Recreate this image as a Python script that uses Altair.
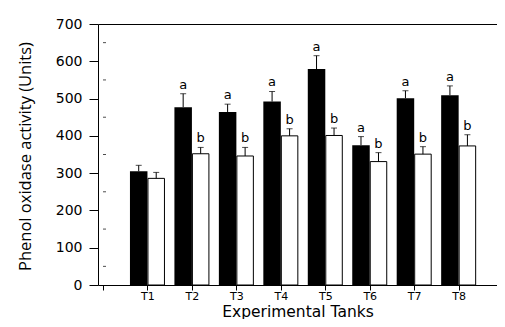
import altair as alt
import pandas as pd

tanks = ["T1", "T2", "T3", "T4", "T5", "T6", "T7", "T8"]
black_vals = [305, 477, 464, 492, 579, 375, 501, 509]
black_err = [16, 36, 21, 27, 36, 23, 20, 25]
white_vals = [286, 352, 346, 400, 401, 331, 351, 373]
white_err = [16, 17, 23, 19, 20, 24, 20, 30]
black_letters = ["", "a", "a", "a", "a", "a", "a", "a"]
white_letters = ["", "b", "b", "b", "b", "b", "b", "b"]
y_ticks = [0, 100, 200, 300, 400, 500, 600, 700]
y_minor = [50, 150, 250, 350, 450, 550, 650]
x_ticks = list(range(0, len(tanks) + 1))
x_minor = [i + 0.5 for i in range(0, len(tanks) + 1)]

pos = list(range(1, len(tanks) + 1))
dfb = pd.DataFrame({"pos": pos, "tank": tanks, "val": black_vals,
                    "top": [v + e for v, e in zip(black_vals, black_err)],
                    "lab": black_letters})
dfw = pd.DataFrame({"pos": pos, "tank": tanks, "val": white_vals,
                    "top": [v + e for v, e in zip(white_vals, white_err)],
                    "lab": white_letters})
dfy = pd.DataFrame({"y": y_minor, "x": [0] * len(y_minor)})
dfx = pd.DataFrame({"x": x_minor, "y": [0] * len(x_minor)})

label_expr = "[" + ",".join(["''"] + [f"'{t}'" for t in tanks]) + "][datum.value]"

xscale = alt.Scale(domain=[0, 8.75], nice=False, zero=False)
yscale = alt.Scale(domain=[0, 700], nice=False)

x_main = alt.X("pos:Q", scale=xscale, axis=alt.Axis(
    values=x_ticks, labelExpr=label_expr, title="Experimental Tanks",
    tickSize=5, labelPadding=0, labelFont="DejaVu Sans", labelFontSize=11,
    titleFont="DejaVu Sans", titleFontSize=15.5, titleFontWeight="normal",
    titleBaseline="alphabetic", titleY=31, grid=False, labelFlush=False))
y_main = alt.Y("val:Q", scale=yscale, axis=alt.Axis(
    values=y_ticks, title="Phenol oxidase activity (Units)", tickSize=9,
    labelPadding=7, labelFont="DejaVu Sans", labelFontSize=14,
    titleFont="Open Sans", titleFontSize=16.5, titleFontWeight="normal",
    titleBaseline="bottom", titleX=-65, titleY=132, grid=False))

off = 8.75
xn = alt.X("pos:Q", scale=xscale, axis=None)

black_bars = alt.Chart(dfb).mark_bar(color="black", width=17.5, xOffset=-off).encode(
    x=x_main, y=y_main)
white_bars = alt.Chart(dfw).mark_bar(fill="white", stroke="black", strokeWidth=1,
                                     width=16.5, xOffset=off).encode(
    x=xn, y=alt.Y("val:Q", scale=yscale, axis=None))

def errs(df, xo):
    rule = alt.Chart(df).mark_rule(color="black", strokeWidth=1, xOffset=xo).encode(
        x=xn, y=alt.Y("val:Q", scale=yscale, axis=None), y2="top:Q")
    cap = alt.Chart(df).mark_tick(color="black", orient="horizontal", size=6,
                                  thickness=1, xOffset=xo).encode(
        x=xn, y=alt.Y("top:Q", scale=yscale, axis=None))
    txt = alt.Chart(df).mark_text(font="DejaVu Sans", fontSize=13, baseline="bottom",
                                  dy=-2, xOffset=xo, color="black").encode(
        x=xn, y=alt.Y("top:Q", scale=yscale, axis=None), text="lab:N")
    return rule + cap + txt

ymin = alt.Chart(dfy).mark_tick(color="black", orient="horizontal", size=3,
                                thickness=1, xOffset=1.5).encode(
    x=alt.X("x:Q", scale=xscale, axis=alt.Axis(orient="top", labels=False, ticks=False,
                                               title=None, grid=False, domain=True)),
    y=alt.Y("y:Q", scale=yscale, axis=None))
xmin = alt.Chart(dfx).mark_tick(color="black", orient="vertical", size=3,
                                thickness=1, yOffset=-1.5).encode(
    x=xn, y=alt.Y("y:Q", scale=yscale, axis=None))

chart = alt.layer(
    black_bars, white_bars, errs(dfb, -off), errs(dfw, off), ymin, xmin
).resolve_axis(x="independent", y="independent").properties(
    width=399, height=261,
    autosize="none",
    padding={"left": 90, "top": 16, "right": 0, "bottom": 34},
    background="white",
).configure_view(stroke=None).configure_axis(
    domainColor="black", tickColor="black", labelColor="black", titleColor="black",
    domainWidth=1, tickWidth=1)

chart.save("out.html", embed_options={"renderer": "svg", "actions": False})
